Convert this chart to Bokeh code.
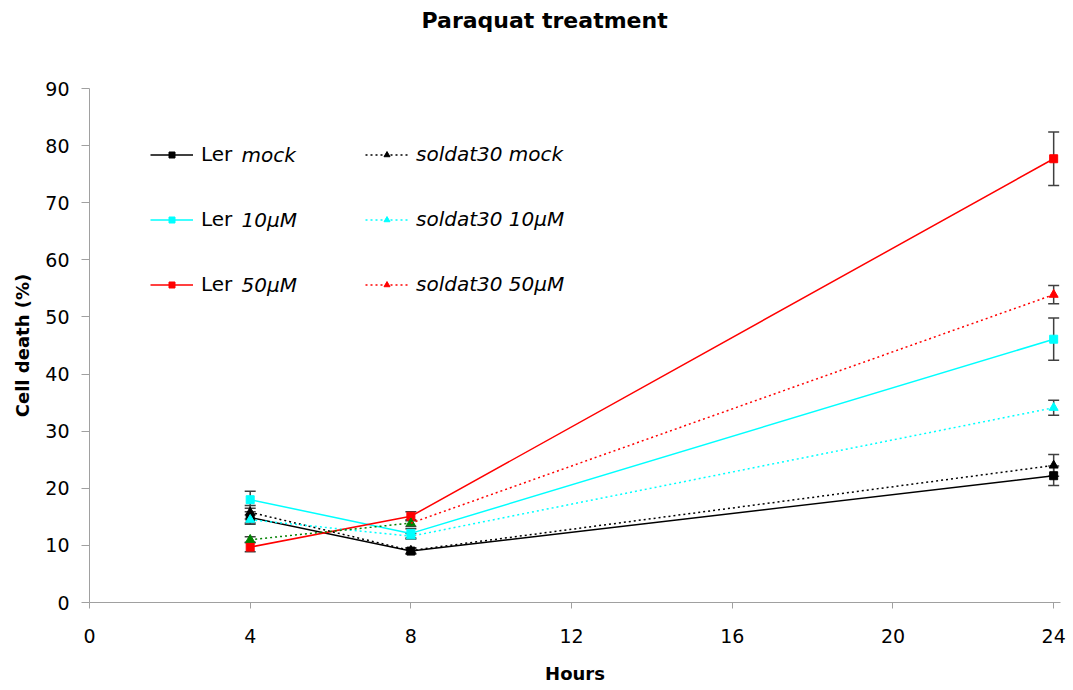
from bokeh.plotting import figure
from bokeh.models import (Range1d, Label, Legend, LegendItem, Whisker, Title,
                          ColumnDataSource, TeeHead, FixedTicker)
from bokeh.embed import file_html
from bokeh.resources import INLINE

# ---- data ----
hours = [4, 8, 24]
ler_mock = [14.9, 9.0, 22.2]
ler_mock_err = [1.0, 0.5, 1.7]
ler_10 = [18.0, 12.1, 46.1]
ler_10_err = [1.5, 0.8, 3.7]
ler_50 = [9.7, 15.1, 77.7]
ler_50_err = [0.8, 0.8, 4.7]
sol_mock = [15.8, 9.1, 24.0]
sol_mock_err = [1.2, 0.5, 1.9]
sol_10 = [14.5, 11.6, 34.1]
sol_10_err = [0.8, 0.5, 1.3]
sol_50 = [11.0, 13.9, 53.9]
sol_50_err = [0.5, 0.6, 1.6]

x_ticks = [0, 4, 8, 12, 16, 20, 24]
y_ticks = [0, 10, 20, 30, 40, 50, 60, 70, 80, 90]

FONT = "DejaVu Sans"

p = figure(width=1073, height=690, output_backend="svg", toolbar_location=None,
           x_range=Range1d(0, 24.17), y_range=Range1d(0, 90),
           min_border_left=89, min_border_right=13,
           min_border_top=88, min_border_bottom=88)
p.outline_line_color = None
p.grid.visible = False
p.background_fill_color = "white"

# real title
p.title.text = "Paraquat treatment"
p.title.text_font = FONT
p.title.text_font_size = "22px"
p.title.text_font_style = "bold"
p.title.text_color = "black"
p.title.align = "left"
p.title.offset = 332
p.title.standoff = 0

# spacer title (closest to the frame) so that the real title sits near the top
p.add_layout(Title(text=" ", text_font=FONT, text_font_size="22px", standoff=29), "above")

for ax in (p.xaxis[0], p.yaxis[0]):
    ax.axis_line_color = "#A0A0A0"
    ax.major_tick_line_color = "#A0A0A0"
    ax.minor_tick_line_color = None
    ax.major_tick_in = 0
    ax.major_label_text_font = FONT
    ax.major_label_text_font_size = "19px"
    ax.major_label_text_color = "black"
    ax.axis_label_text_font = FONT
    ax.axis_label_text_font_size = "18px"
    ax.axis_label_text_font_style = "bold"
    ax.axis_label_text_color = "black"

p.xaxis.ticker = FixedTicker(ticks=x_ticks)
p.yaxis.ticker = FixedTicker(ticks=y_ticks)
p.xaxis.major_tick_out = 6
p.yaxis.major_tick_out = 8
p.xaxis.major_label_standoff = 20
p.yaxis.major_label_standoff = 12
p.xaxis.axis_label = "Hours"
p.yaxis.axis_label = "Cell death (%)"
p.xaxis.axis_label_standoff = 17
p.yaxis.axis_label_standoff = 9

RED = "#FF0000"
CYAN = "#00FFFF"
BLACK = "#000000"
GREEN = "#008000"
DOT = "2 3"

def whisk(xs, ys, es):
    src = ColumnDataSource(dict(x=xs, up=[y + e for y, e in zip(ys, es)],
                                lo=[y - e for y, e in zip(ys, es)]))
    w = Whisker(source=src, base="x", upper="up", lower="lo",
                line_color="#404040", line_width=1.5, level="underlay",
                upper_head=TeeHead(size=11, line_color="#404040", line_width=1.5),
                lower_head=TeeHead(size=11, line_color="#404040", line_width=1.5))
    p.add_layout(w)

all_series = [
    (ler_mock, ler_mock_err), (ler_10, ler_10_err), (ler_50, ler_50_err),
    (sol_mock, sol_mock_err), (sol_10, sol_10_err), (sol_50, sol_50_err),
]
for ys, es in all_series:
    whisk(hours, ys, es)

# Ler series (solid, squares)
r_lm_l = p.line(hours, ler_mock, line_color=BLACK, line_width=1.5)
r_lm_s = p.scatter(hours, ler_mock, marker="square", size=8, color=BLACK)
r_l10_l = p.line(hours, ler_10, line_color=CYAN, line_width=1.5)
r_l10_s = p.scatter(hours, ler_10, marker="square", size=8, color=CYAN)
r_l50_l = p.line(hours, ler_50, line_color=RED, line_width=1.5)
r_l50_s = p.scatter(hours, ler_50, marker="square", size=8, color=RED)

# soldat30 series (dotted, triangles)
r_sm_l = p.line(hours, sol_mock, line_color=BLACK, line_width=1.5, line_dash=DOT)
r_sm_s = p.scatter(hours, sol_mock, marker="triangle", size=9, color=BLACK)
r_s10_l = p.line(hours, sol_10, line_color=CYAN, line_width=1.5, line_dash=DOT)
r_s10_s = p.scatter(hours, sol_10, marker="triangle", size=9, color=CYAN)
# soldat30 50uM: first segment drawn green, last segment red (as in the reference)
r_s50_lg = p.line(hours[:2], sol_50[:2], line_color=GREEN, line_width=1.5, line_dash=DOT)
r_s50_sg = p.scatter(hours[:2], sol_50[:2], marker="triangle", size=9, color=GREEN)
r_s50_l = p.line(hours[1:], sol_50[1:], line_color=RED, line_width=1.5, line_dash=DOT)
r_s50_s = p.scatter(hours[2:], sol_50[2:], marker="triangle", size=9, color=RED)

def make_legend(items, x, style):
    lg = Legend(items=items, location=(x, 306), orientation="vertical",
                padding=0, margin=0, border_line_color=None,
                background_fill_alpha=0, glyph_width=43, glyph_height=15,
                label_height=24, spacing=41, label_standoff=8,
                label_text_font=FONT, label_text_font_size="20px",
                label_text_font_style=style, label_text_color="black")
    p.add_layout(lg)

make_legend([LegendItem(label="Ler", renderers=[r_lm_l, r_lm_s]),
             LegendItem(label="Ler", renderers=[r_l10_l, r_l10_s]),
             LegendItem(label="Ler", renderers=[r_l50_l, r_l50_s])], 61, "normal")
make_legend([LegendItem(label="soldat30 mock", renderers=[r_sm_l, r_sm_s]),
             LegendItem(label="soldat30 10µM", renderers=[r_s10_l, r_s10_s]),
             LegendItem(label="soldat30 50µM", renderers=[r_s50_l, r_s50_s])], 276, "italic")

for txt, yy in (("mock", 448), ("10µM", 383), ("50µM", 318)):
    p.add_layout(Label(x=152, y=yy, x_units="screen", y_units="screen", text=txt,
                       text_font=FONT, text_font_size="20px", text_font_style="italic",
                       text_baseline="middle", text_color="black"))

open("out.html", "w").write(file_html(p, INLINE))
